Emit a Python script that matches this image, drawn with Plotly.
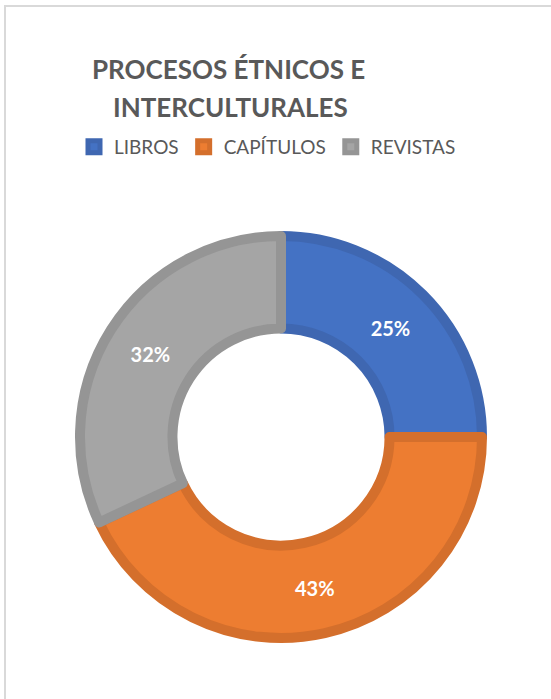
import plotly.graph_objects as go

# data
categorias = ["LIBROS", "CAPÍTULOS", "REVISTAS"]
porcentajes = [25, 43, 32]
colores = ["#4472C4", "#ED7D31", "#A5A5A5"]
bordes = ["#3F67B1", "#D46F2C", "#959595"]
titulo = ["PROCESOS ÉTNICOS E", "INTERCULTURALES"]

W, H = 551, 699

fig = go.Figure()

fig.add_trace(go.Pie(
    labels=categorias,
    values=porcentajes,
    sort=False,
    direction="clockwise",
    rotation=0,
    hole=0.54,
    marker=dict(colors=colores, line=dict(color=bordes, width=10)),
    textinfo="percent",
    textposition="inside",
    insidetextorientation="horizontal",
    textfont=dict(family="Lato", size=20, color="white", weight="bold"),
    domain=dict(x=[80 / W, 482 / W], y=[1 - 638 / H, 1 - 236 / H]),
))

# title lines placed separately to get Excel-like line spacing
titulo_pos = [(228.5, 69), (230.5, 107)]
anotaciones = []
for linea, (px, py) in zip(titulo, titulo_pos):
    anotaciones.append(dict(
        text="<b>" + linea + "</b>",
        x=px / W, y=1 - py / H, xref="paper", yref="paper",
        xanchor="center", yanchor="middle", showarrow=False,
        font=dict(family="Lato", size=26, color="#595959"),
    ))

fig.update_layout(
    width=W, height=H,
    margin=dict(l=0, r=0, t=0, b=0),
    paper_bgcolor="white",
    showlegend=True,
    legend=dict(
        orientation="h",
        x=74 / W, xanchor="left",
        y=1 - 147 / H, yanchor="middle",
        font=dict(family="Lato", size=19, color="#595959"),
        itemwidth=30,
        traceorder="normal",
    ),
    annotations=anotaciones,
    shapes=[dict(
        type="rect", xref="paper", yref="paper",
        x0=5 / W, x1=1.2, y0=-0.2, y1=1 - 6 / H,
        line=dict(color="#D9D9D9", width=2),
    )],
)

fig.write_html("out.html", config={"displayModeBar": False},
               post_script="document.body.style.margin='0';")
